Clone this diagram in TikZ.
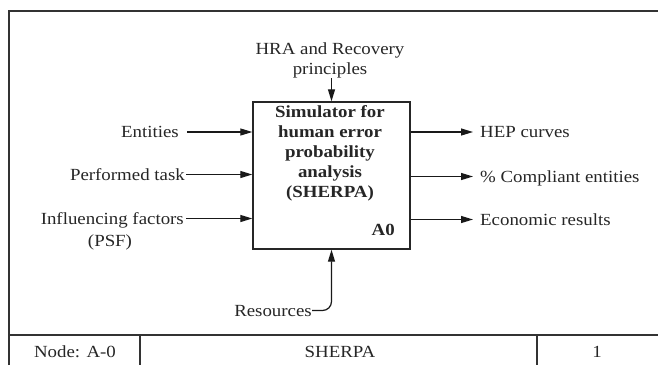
\documentclass[tikz,border=0pt]{standalone}
\usepackage{fontspec}
\setmainfont{Liberation Serif}[FakeStretch=1.11]
\usetikzlibrary{arrows.meta}
\begin{document}
\begin{tikzpicture}[x=1pt,y=-1pt,
  font=\fontsize{17}{20}\selectfont,
  every node/.style={text=black!85},
  frame/.style={draw=black!80,line width=1.2pt},
  flow/.style={draw=black!90,line width=1.2pt,-{Triangle[length=12pt,width=7pt]}},
  lbl/.style={inner sep=0pt,text height=11pt,text depth=0pt},
  funcbox/.style={draw=black!85,line width=1.4pt,minimum width=157pt,minimum height=147pt,inner sep=0pt}]
\useasboundingbox (0,0) rectangle (658,365);

% outer frame and title block
\draw[frame] (9,365) -- (9,11) -- (658,11);
\draw[frame] (9,335) -- (658,335);
\draw[frame] (140,335) -- (140,365);
\draw[frame] (537,335) -- (537,365);
\node[anchor=base] (nodeid) at (75,357) {Node: A-0};
\node[anchor=base] (title) at (340,357) {SHERPA};
\node[anchor=base] (pageno) at (597,357) {1};

% activity box
\node[funcbox] (box) at (331.5,175.5) {};
\node[anchor=north,align=center,inner sep=0pt,font=\fontsize{17}{20}\selectfont\bfseries]
  (boxtitle) at (330,105) {Simulator for\\human error\\probability\\analysis\\(SHERPA)};
\node[anchor=base east,inner sep=0pt,font=\fontsize{17}{20}\selectfont\bfseries]
  (boxid) at (395,235) {A0};

% control
\node[align=center,anchor=south,inner sep=0pt] (ctrl) at (330,78) {HRA and Recovery\\principles};
\draw[flow] (ctrl.south -| box.north) -- (box.north);

% inputs
\node[lbl,anchor=east] (ent) at (179,132) {Entities};
\node[lbl,anchor=east] (task) at (185,174.5) {Performed task};
\node[lbl,anchor=east] (infl) at (184,218.5) {Influencing factors};
\node[anchor=base,inner sep=0pt] (psf) at (110,246) {(PSF)};
\draw[flow] ([xshift=8pt]ent.east) -- (ent.east -| box.west);
\draw[flow] ([xshift=1pt]task.east) -- (task.east -| box.west);
\draw[flow] ([xshift=2pt]infl.east) -- (infl.east -| box.west);

% outputs
\node[lbl,anchor=west] (hep) at (480,132) {HEP curves};
\node[lbl,anchor=west] (comp) at (480,176.5) {\% Compliant entities};
\node[lbl,anchor=west] (econ) at (480,219.5) {Economic results};
\draw[flow] (hep.west -| box.east) -- ([xshift=-7pt]hep.west);
\draw[flow] (comp.west -| box.east) -- ([xshift=-7pt]comp.west);
\draw[flow] (econ.west -| box.east) -- ([xshift=-7pt]econ.west);

% mechanism
\node[lbl,anchor=east] (res) at (312,310.5) {Resources};
\draw[flow,rounded corners=9pt] (res.east) -| (box.south);
\end{tikzpicture}
\end{document}
